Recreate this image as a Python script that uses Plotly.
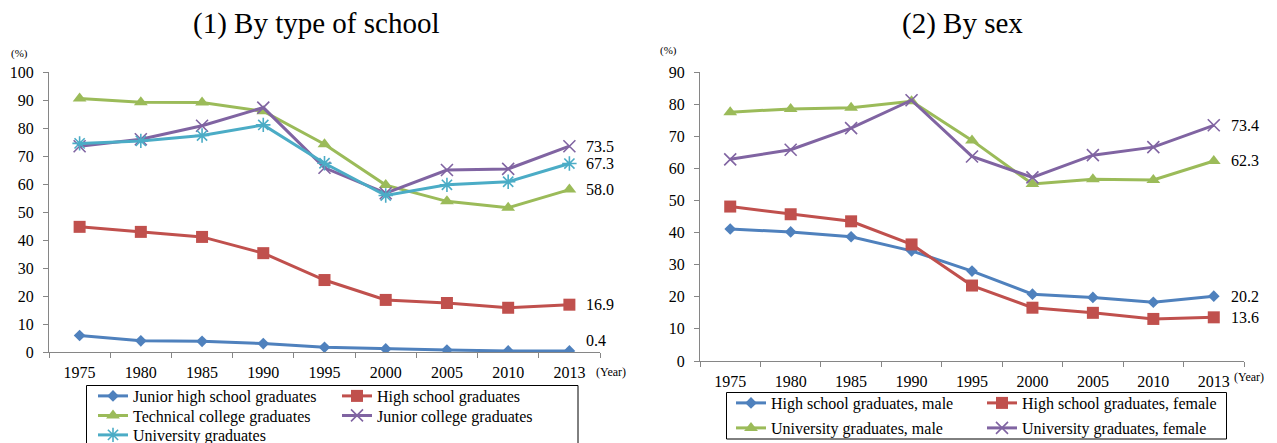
import plotly.graph_objects as go

# Category axis (survey years)
years = ["1975", "1980", "1985", "1990", "1995", "2000", "2005", "2010", "2013"]

# (1) By type of school, %
junior_high = [5.9, 4.0, 3.8, 3.0, 1.7, 1.1, 0.7, 0.4, 0.4]
high_school = [44.7, 42.9, 41.1, 35.3, 25.7, 18.6, 17.5, 15.8, 16.9]
technical_college = [90.5, 89.2, 89.1, 86.0, 74.2, 59.6, 53.8, 51.5, 58.0]
junior_college = [73.5, 76.0, 80.8, 87.3, 65.8, 56.7, 65.0, 65.4, 73.5]
university = [74.5, 75.4, 77.3, 81.1, 67.4, 55.9, 59.7, 60.8, 67.3]

# (2) By sex, %
hs_male = [41.1, 40.2, 38.7, 34.3, 28.0, 20.8, 19.8, 18.3, 20.2]
hs_female = [48.1, 45.7, 43.5, 36.3, 23.5, 16.6, 15.0, 13.1, 13.6]
univ_male = [77.5, 78.5, 78.9, 80.9, 68.7, 55.1, 56.6, 56.4, 62.3]
univ_female = [62.8, 65.8, 72.5, 81.2, 63.7, 57.2, 64.1, 66.6, 73.4]

W, H = 1277, 443
SERIF = "Liberation Serif, Times New Roman, serif"
AXIS_GREY = "#868686"

BLUE, RED, GREEN, PURPLE, CYAN = "#4F81BD", "#C0504D", "#9BBB59", "#8064A2", "#4BACC6"


def px_x(v):
    return v / W


def px_y(v):
    return 1 - v / H


fig = go.Figure()


def add_line(name, values, color, symbol, size, xaxis, yaxis, legend, thin=False):
    marker = dict(symbol=symbol, size=size, color=color)
    if thin:
        marker["line"] = dict(color=color, width=1.6)
    else:
        marker["line"] = dict(width=0)
    fig.add_trace(go.Scatter(
        x=years, y=values, name=name, mode="lines+markers",
        line=dict(color=color, width=3), marker=marker,
        xaxis=xaxis, yaxis=yaxis, legend=legend,
    ))


add_line("Junior high school graduates", junior_high, BLUE, "diamond", 9, "x", "y", "legend")
add_line("High school graduates", high_school, RED, "square", 12, "x", "y", "legend")
add_line("Technical college graduates", technical_college, GREEN, "triangle-up", 12, "x", "y", "legend2")
add_line("Junior college graduates", junior_college, PURPLE, "x-thin-open", 12, "x", "y", "legend2", thin=True)
add_line("University graduates", university, CYAN, "asterisk-open", 12, "x", "y", "legend3", thin=True)

add_line("High school graduates, male", hs_male, BLUE, "diamond", 9, "x2", "y2", "legend4")
add_line("High school graduates, female", hs_female, RED, "square", 12, "x2", "y2", "legend4")
add_line("University graduates, male", univ_male, GREEN, "triangle-up", 12, "x2", "y2", "legend5")
add_line("University graduates, female", univ_female, PURPLE, "x-thin-open", 12, "x2", "y2", "legend5", thin=True)

# plot areas in pixels
L_X0, L_X1, L_Y0, L_Y1 = 49, 600, 352, 72
R_X0, R_X1, R_Y0, R_Y1 = 700, 1244, 361, 72

tickfont = dict(family=SERIF, size=16, color="black")
xcommon = dict(type="category", showline=True, linecolor=AXIS_GREY, linewidth=1,
               ticks="outside", ticklen=5, tickcolor=AXIS_GREY, tickson="boundaries",
               showgrid=False, zeroline=False, tickfont=tickfont, ticklabelstandoff=6,
               range=[-0.5, len(years) - 0.5], autorange=False, tickangle=0,
               fixedrange=True)
ycommon = dict(showline=True, linecolor=AXIS_GREY, linewidth=1, ticks="outside",
               ticklen=5, tickcolor=AXIS_GREY, showgrid=False, zeroline=False,
               tickfont=tickfont, dtick=10, ticklabelstandoff=6, fixedrange=True)

legend_base = dict(orientation="h", entrywidthmode="pixels", bgcolor="rgba(0,0,0,0)",
                   borderwidth=0, font=dict(family=SERIF, size=16, color="black"),
                   xanchor="left", yanchor="middle", xref="paper", yref="paper",
                   tracegroupgap=0)


def legend_row(x_sym, y_row, entry):
    d = dict(legend_base)
    d.update(x=px_x(x_sym - 5), y=px_y(y_row), entrywidth=entry)
    return d


fig.update_layout(
    width=W, height=H,
    margin=dict(l=0, r=0, t=0, b=0, autoexpand=False),
    paper_bgcolor="white", plot_bgcolor="white",
    font=dict(family=SERIF, color="black"),
    xaxis=dict(xcommon, domain=[px_x(L_X0), px_x(L_X1)], anchor="y"),
    yaxis=dict(ycommon, domain=[px_y(L_Y0), px_y(L_Y1)], range=[0, 100], anchor="x"),
    xaxis2=dict(xcommon, domain=[px_x(R_X0), px_x(R_X1)], anchor="y2"),
    yaxis2=dict(ycommon, domain=[px_y(R_Y0), px_y(R_Y1)], range=[0, 90], anchor="x2"),
    legend=legend_row(98, 396, 199),
    legend2=legend_row(98, 415.5, 199),
    legend3=legend_row(98, 435, 199),
    legend4=legend_row(736, 403, 206),
    legend5=legend_row(736, 428, 206),
    showlegend=True,
)

# legend frames
fig.add_shape(type="rect", xref="paper", yref="paper",
              x0=px_x(86.5), x1=px_x(578), y0=px_y(452), y1=px_y(385.5),
              line=dict(color="black", width=1), fillcolor="rgba(0,0,0,0)")
fig.add_shape(type="rect", xref="paper", yref="paper",
              x0=px_x(726.5), x1=px_x(1226.5), y0=px_y(439), y1=px_y(392.5),
              line=dict(color="black", width=1), fillcolor="rgba(0,0,0,0)")

annotations = []
# titles
annotations.append(dict(text="(1) By type of school", xref="paper", yref="paper",
                        x=px_x(316), y=px_y(23), showarrow=False,
                        font=dict(family=SERIF, size=29), xanchor="center", yanchor="middle"))
annotations.append(dict(text="(2) By sex", xref="paper", yref="paper",
                        x=px_x(962), y=px_y(23), showarrow=False,
                        font=dict(family=SERIF, size=29), xanchor="center", yanchor="middle"))
# unit labels
for x, y in [(19, 53), (669, 51)]:
    annotations.append(dict(text="(%)", xref="paper", yref="paper", x=px_x(x), y=px_y(y),
                            showarrow=False, font=dict(family=SERIF, size=11),
                            xanchor="center", yanchor="middle"))
for x, y in [(594, 372), (1232, 377)]:
    annotations.append(dict(text="(Year)", xref="paper", yref="paper", x=px_x(x), y=px_y(y),
                            showarrow=False, font=dict(family=SERIF, size=12),
                            xanchor="left", yanchor="middle"))

# end-of-line value labels (x given as the category index of the last year)
last = len(years) - 1
for series, xr, yr, ys in [(junior_college, "x", "y", 0), (university, "x", "y", 0),
                           (technical_college, "x", "y", 0), (high_school, "x", "y", 0),
                           (junior_high, "x", "y", 10),
                           (univ_female, "x2", "y2", 0), (univ_male, "x2", "y2", 0),
                           (hs_male, "x2", "y2", 0), (hs_female, "x2", "y2", 0)]:
    annotations.append(dict(text=f"{series[-1]:.1f}", xref=xr, yref=yr, x=last,
                            y=series[-1], xshift=15, yshift=ys, showarrow=False,
                            xanchor="left", yanchor="middle",
                            font=dict(family=SERIF, size=16)))

fig.update_layout(annotations=annotations)

fig.write_html("out.html")
